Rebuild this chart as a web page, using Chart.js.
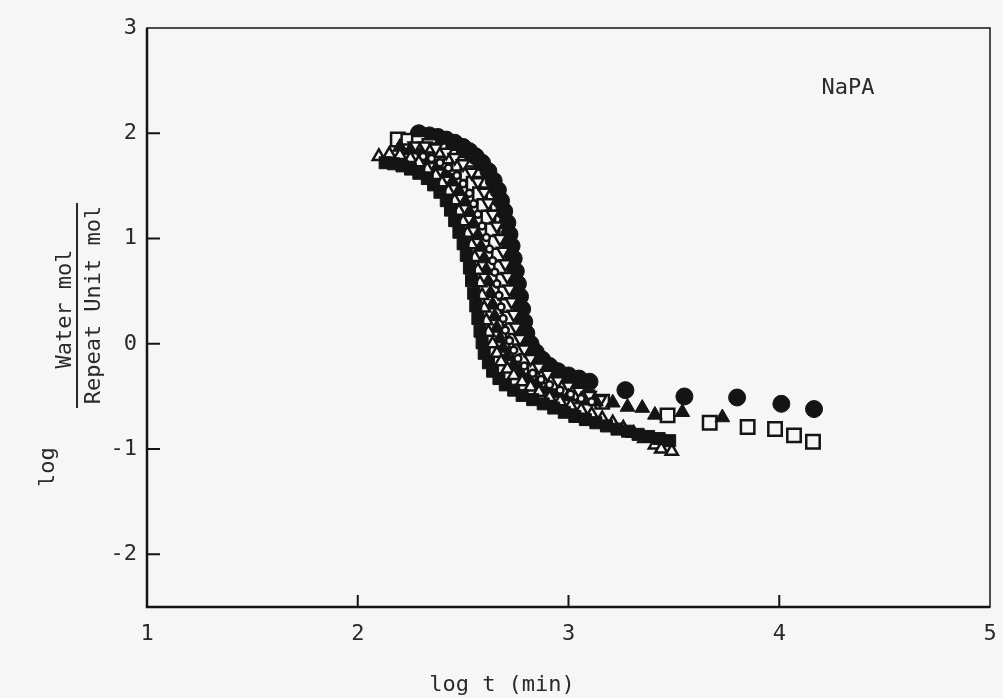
<!DOCTYPE html>
<html>
<head>
<meta charset="utf-8">
<script src="https://cdn.jsdelivr.net/npm/chart.js@4.4.1/dist/chart.umd.min.js"></script>
<style>
    html, body { margin: 0; padding: 0; background: #f6f6f6; }
    #wrap { position: relative; width: 1003px; height: 698px; }
    canvas { position: absolute; left: 0; top: 0; }
    .lbl {
        position: absolute;
        font-family: "DejaVu Sans Mono", monospace;
        font-size: 22px;
        color: #2a2a2a;
        white-space: nowrap;
        transform: translate(-50%, -50%);
    }
    .rot { transform: translate(-50%, -50%) rotate(-90deg); }
    #fracLine { position: absolute; left: 76px; top: 203px; width: 2px; height: 205px; background: #2a2a2a; }
</style>
</head>
<body>
<div id="wrap">
    <canvas id="chart" width="1003" height="698"></canvas>
    <div class="lbl rot" style="left:46px; top:467px;">log</div>
    <div class="lbl rot" style="left:63px; top:309px;">Water mol</div>
    <div id="fracLine"></div>
    <div class="lbl rot" style="left:92px; top:305px;">Repeat Unit mol</div>
    <div class="lbl" style="left:502px; top:683px;">log t (min)</div>
    <div class="lbl" style="left:848px; top:86px;">NaPA</div>
</div>
<script>
    // tick values
    const xTicks = [1, 2, 3, 4, 5];
    const yTicks = [-2, -1, 0, 1, 2, 3];

    // series as [log t, log(water/repeat unit)]
    const filledSquares = [
        [2.13, 1.72], [2.17, 1.71], [2.21, 1.69], [2.25, 1.66], [2.29, 1.62], [2.33, 1.57], [2.36, 1.51],
        [2.39, 1.44], [2.42, 1.36], [2.44, 1.27], [2.46, 1.17], [2.48, 1.06], [2.50, 0.95], [2.515, 0.84],
        [2.53, 0.72], [2.54, 0.60], [2.55, 0.48], [2.56, 0.36], [2.57, 0.24], [2.58, 0.12], [2.59, 0.01],
        [2.60, -0.09], [2.62, -0.18], [2.64, -0.26], [2.67, -0.33], [2.70, -0.39], [2.74, -0.44], [2.78, -0.49],
        [2.83, -0.53], [2.88, -0.57], [2.93, -0.61], [2.98, -0.65], [3.03, -0.69], [3.08, -0.72], [3.13, -0.75],
        [3.18, -0.78], [3.23, -0.81], [3.28, -0.83], [3.33, -0.86], [3.38, -0.88], [3.43, -0.90], [3.48, -0.92]
    ];
    const openTriangles = [
        [2.10, 1.78], [2.15, 1.80], [2.20, 1.79], [2.25, 1.76], [2.29, 1.72], [2.33, 1.66], [2.37, 1.60],
        [2.40, 1.53], [2.43, 1.45], [2.46, 1.36], [2.48, 1.26], [2.50, 1.16], [2.52, 1.05], [2.54, 0.94],
        [2.555, 0.82], [2.57, 0.70], [2.58, 0.58], [2.59, 0.46], [2.60, 0.34], [2.61, 0.22], [2.62, 0.11],
        [2.64, 0.00], [2.66, -0.09], [2.68, -0.17], [2.71, -0.24], [2.74, -0.30], [2.78, -0.36], [2.82, -0.41],
        [2.86, -0.46], [2.91, -0.51], [2.96, -0.55], [3.01, -0.59], [3.06, -0.63], [3.11, -0.67], [3.16, -0.71],
        [3.21, -0.75], [3.26, -0.80], [3.31, -0.85], [3.36, -0.90], [3.41, -0.96], [3.44, -1.00], [3.49, -1.02]
    ];
    const openCircles = [
        [2.27, 1.78], [2.31, 1.78], [2.35, 1.76], [2.39, 1.72], [2.43, 1.67], [2.47, 1.60], [2.50, 1.52],
        [2.53, 1.43], [2.55, 1.33], [2.57, 1.23], [2.59, 1.12], [2.61, 1.01], [2.625, 0.90], [2.64, 0.79],
        [2.65, 0.68], [2.66, 0.57], [2.67, 0.46], [2.68, 0.35], [2.69, 0.24], [2.70, 0.13], [2.72, 0.03],
        [2.74, -0.06], [2.76, -0.14], [2.79, -0.21], [2.83, -0.28], [2.87, -0.34], [2.91, -0.39], [2.96, -0.44],
        [3.01, -0.48], [3.06, -0.52], [3.11, -0.55]
    ];
    const filledTriangles = [
        [2.20, 1.87], [2.25, 1.84], [2.30, 1.80], [2.34, 1.75], [2.38, 1.69], [2.42, 1.62], [2.45, 1.54],
        [2.48, 1.45], [2.51, 1.35], [2.53, 1.25], [2.55, 1.14], [2.57, 1.03], [2.585, 0.92], [2.60, 0.81],
        [2.61, 0.70], [2.62, 0.59], [2.63, 0.48], [2.64, 0.37], [2.65, 0.26], [2.66, 0.15], [2.675, 0.05],
        [2.69, -0.04], [2.71, -0.12], [2.74, -0.20], [2.77, -0.27], [2.81, -0.33], [2.85, -0.38], [2.90, -0.43],
        [2.95, -0.47], [3.00, -0.50], [3.06, -0.53], [3.13, -0.55], [3.21, -0.56], [3.28, -0.60], [3.35, -0.61],
        [3.41, -0.675], [3.54, -0.65], [3.73, -0.70]
    ];
    const invTriangles = [
        [2.22, 1.86], [2.27, 1.88], [2.32, 1.88], [2.37, 1.86], [2.42, 1.82], [2.46, 1.77], [2.50, 1.71],
        [2.54, 1.63], [2.57, 1.54], [2.60, 1.44], [2.62, 1.34], [2.64, 1.23], [2.66, 1.12], [2.675, 1.00],
        [2.69, 0.88], [2.70, 0.76], [2.71, 0.64], [2.72, 0.52], [2.73, 0.40], [2.74, 0.28], [2.75, 0.16],
        [2.77, 0.05], [2.79, -0.05], [2.82, -0.14], [2.86, -0.22], [2.90, -0.29], [2.95, -0.35], [3.00, -0.40],
        [3.05, -0.45], [3.10, -0.49], [3.15, -0.53]
    ];
    const openSquares = [
        [2.19, 1.94], [2.24, 1.93], [2.29, 1.91], [2.34, 1.88], [2.39, 1.84], [2.44, 1.78], [2.48, 1.71],
        [2.52, 1.62], [2.55, 1.52], [2.58, 1.42], [2.60, 1.31], [2.62, 1.20], [2.64, 1.08], [2.655, 0.96],
        [2.67, 0.84], [2.68, 0.72], [2.69, 0.60], [2.70, 0.48], [2.71, 0.36], [2.72, 0.24], [2.735, 0.13],
        [2.75, 0.03], [2.77, -0.07], [2.80, -0.16], [2.84, -0.24], [2.88, -0.31], [2.93, -0.37], [2.98, -0.42],
        [3.03, -0.47], [3.09, -0.51], [3.16, -0.55], [3.47, -0.68], [3.67, -0.75], [3.85, -0.79], [3.98, -0.81],
        [4.07, -0.87], [4.16, -0.93]
    ];
    const filledCircles = [
        [2.29, 2.00], [2.34, 1.98], [2.38, 1.965], [2.42, 1.94], [2.46, 1.91], [2.50, 1.87], [2.53, 1.83],
        [2.56, 1.78], [2.59, 1.72], [2.62, 1.64], [2.645, 1.55], [2.665, 1.46], [2.68, 1.36], [2.695, 1.26],
        [2.71, 1.15], [2.72, 1.04], [2.73, 0.93], [2.74, 0.81], [2.75, 0.69], [2.76, 0.57], [2.77, 0.45],
        [2.78, 0.33], [2.79, 0.21], [2.80, 0.10], [2.82, 0.00], [2.845, -0.08], [2.875, -0.15], [2.91, -0.21],
        [2.95, -0.26], [3.00, -0.30], [3.05, -0.33], [3.10, -0.36], [3.27, -0.44], [3.55, -0.50], [3.80, -0.51],
        [4.01, -0.57], [4.165, -0.62]
    ];

    const ink = '#141414';
    const paper = '#f6f6f6';
    const fontFamily = '"DejaVu Sans Mono", monospace';

    function series(label, pts, style, filled, radius, rotation) {
        return {
            label: label,
            data: pts.map(p => ({ x: p[0], y: p[1] })),
            pointStyle: style,
            pointRadius: radius,
            pointRotation: rotation || 0,
            pointBackgroundColor: filled ? ink : paper,
            pointBorderColor: ink,
            pointBorderWidth: filled ? 1 : 2.5,
            showLine: false
        };
    }

    // first dataset is drawn on top
    const datasets = [
        series('filled squares', filledSquares, 'rect', true, 8.5),
        series('open triangles', openTriangles, 'triangle', false, 7),
        series('open circles', openCircles, 'circle', false, 3.5),
        series('filled triangles', filledTriangles, 'triangle', true, 8.5),
        series('open inverted triangles', invTriangles, 'triangle', false, 7, 180),
        series('open squares', openSquares, 'rect', false, 9.5),
        series('filled circles', filledCircles, 'circle', true, 8.5)
    ];

    // frame + inward tick marks
    const frame = {
        id: 'frame',
        afterDraw(chart) {
            const ctx = chart.ctx;
            const a = chart.chartArea;
            const xs = chart.scales.x, ys = chart.scales.y;
            ctx.save();
            ctx.strokeStyle = ink;
            ctx.lineWidth = 1.5;
            ctx.strokeRect(a.left, a.top, a.right - a.left, a.bottom - a.top);
            ctx.lineWidth = 2.5;
            ctx.beginPath();
            ctx.moveTo(a.left, a.top);
            ctx.lineTo(a.left, a.bottom);
            ctx.lineTo(a.right, a.bottom);
            ctx.stroke();
            ctx.lineWidth = 2;
            ctx.beginPath();
            xTicks.slice(1, -1).forEach(v => {
                const px = xs.getPixelForValue(v);
                ctx.moveTo(px, a.bottom);
                ctx.lineTo(px, a.bottom - 12);
            });
            yTicks.slice(0, -1).forEach(v => {
                const py = ys.getPixelForValue(v);
                ctx.moveTo(a.left, py);
                ctx.lineTo(a.left + 13, py);
            });
            ctx.stroke();
            ctx.restore();
        }
    };

    const ctx = document.getElementById('chart').getContext('2d');
    new Chart(ctx, {
        type: 'scatter',
        data: { datasets: datasets },
        options: {
            responsive: false,
            animation: false,
            events: [],
            layout: { padding: { left: 0, top: 28, right: 13, bottom: 0 } },
            plugins: { legend: { display: false }, tooltip: { enabled: false } },
            scales: {
                x: {
                    type: 'linear',
                    min: 1,
                    max: 5,
                    afterBuildTicks: function (axis) {
                        axis.ticks = xTicks.map(v => ({ value: v }));
                    },
                    afterFit: function (scale) {
                        scale.height = 91;
                        scale.paddingLeft = 0;
                        scale.paddingRight = 0;
                    },
                    grid: { display: false, drawTicks: false },
                    border: { display: false },
                    ticks: {
                        padding: 14,
                        color: '#2a2a2a',
                        font: { family: fontFamily, size: 22 }
                    }
                },
                y: {
                    type: 'linear',
                    min: -2.5,
                    max: 3,
                    afterBuildTicks: function (axis) {
                        axis.ticks = yTicks.map(v => ({ value: v }));
                    },
                    afterFit: function (scale) {
                        scale.width = 147;
                        scale.paddingTop = 0;
                        scale.paddingBottom = 0;
                    },
                    grid: { display: false, drawTicks: false },
                    border: { display: false },
                    ticks: {
                        padding: 10,
                        color: '#2a2a2a',
                        font: { family: fontFamily, size: 22 }
                    }
                }
            }
        },
        plugins: [frame]
    });
</script>
</body>
</html>
